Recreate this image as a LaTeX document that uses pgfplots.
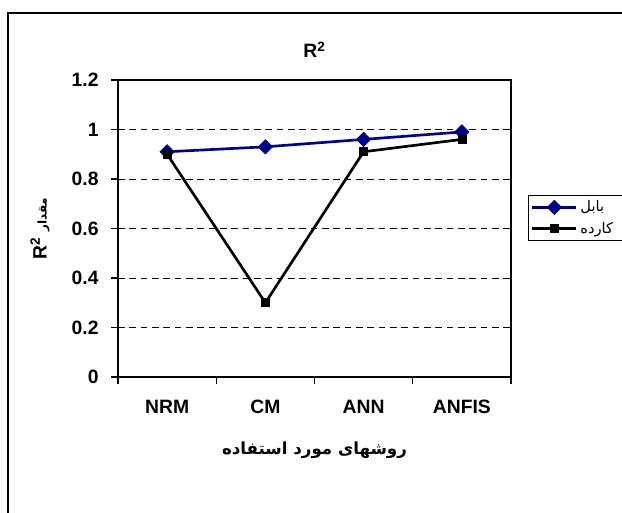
\documentclass[border=0pt]{standalone}
\usepackage{pgfplots}
\pgfplotsset{compat=1.18}
\usepackage{fontspec}
\setmainfont{Liberation Sans}
\newfontfamily\arabicfont[Script=Arabic]{DejaVu Sans}
\TeXXeTstate=1
\definecolor{navyb}{RGB}{0,0,128}
\begin{document}
\begin{tikzpicture}
\useasboundingbox (-88.5pt,-102pt) rectangle (378pt,282.75pt);
\draw[line width=1.3pt] (-82.5pt,-110pt) -- (-82.5pt,273pt) -- (390pt,273pt);
\begin{axis}[
  at={(0,0)}, anchor=south west,
  width=294.75pt, height=222.75pt, scale only axis,
  xmin=-0.5, xmax=3.5, ymin=0, ymax=1.2,
  xtick={-0.5,0.5,1.5,2.5,3.5}, xticklabels={},
  extra x ticks={0,1,2,3}, extra x tick labels={NRM,CM,ANN,ANFIS},
  extra x tick style={major tick length=0pt, grid=none},
  ytick={0,0.2,0.4,0.6,0.8,1,1.2},
  tick pos=left, tick align=outside, major tick length=5pt,
  tick style={black, line width=0.8pt},
  axis line style={black, line width=1pt},
  ymajorgrids, grid style={black, line width=0.6pt, dash pattern=on 5pt off 3.5pt},
  /pgf/number format/assume math mode=true,
  ticklabel style={font=\bfseries\fontsize{14.5}{17}\selectfont},
  yticklabel style={xshift=-6pt},
  xticklabel style={yshift=-14pt},
  title={\bfseries R\textsuperscript{2}},
  title style={at={(0.5,1)}, anchor=base, yshift=10.5pt, font=\fontsize{14.5}{17}\selectfont},
  xlabel={\arabicfont\bfseries\beginR روشهای مورد استفاده\endR},
  xlabel style={at={(0.5,0)}, anchor=center, yshift=-54.75pt, font=\fontsize{12.5}{15}\selectfont},
  ylabel={\bfseries\fontsize{14.5}{17}\selectfont R\textsuperscript{2} {\arabicfont\bfseries\fontsize{9}{11}\selectfont\beginR مقدار\endR}},
  ylabel style={at={(axis description cs:-0.1985,0.5)}, anchor=center},
  legend style={at={(1.0433,0.6128)}, anchor=north west, draw=black, line width=0.6pt,
    font=\fontsize{11}{13}\selectfont, inner sep=2pt, row sep=2pt,
    nodes={text width=50pt, anchor=west}},
  legend cell align=left,
  legend image code/.code={\draw[mark repeat=2,mark phase=2,#1] plot coordinates {(0pt,0pt) (16.5pt,0pt) (33pt,0pt)};},
]
\addplot[navyb, line width=2pt, mark=square*, mark size=3.8pt, mark options={rotate=45, line width=0.5pt}]
  coordinates {(0,0.91) (1,0.93) (2,0.96) (3,0.99)};
\addlegendentry{\arabicfont\beginR بابل\endR}
\addplot[black, line width=2pt, mark=square*, mark size=3pt, mark options={line width=0.5pt}]
  coordinates {(0,0.90) (1,0.30) (2,0.91) (3,0.96)};
\addlegendentry{\arabicfont\beginR کارده\endR}
\end{axis}
\end{tikzpicture}
\end{document}
